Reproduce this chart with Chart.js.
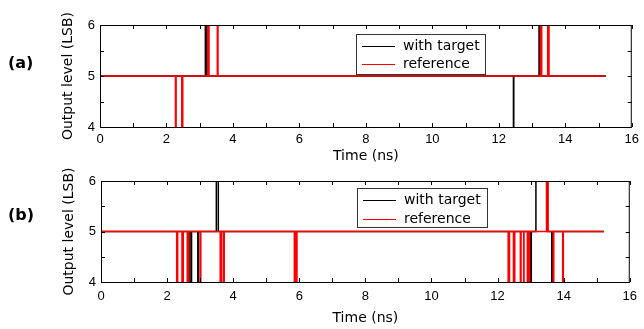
<!DOCTYPE html>
<html>
<head>
<meta charset="utf-8">
<script src="https://cdn.jsdelivr.net/npm/chart.js@4.4.1/dist/chart.umd.min.js"></script>
<style>
    body { margin: 0; background: #fff; }
    #wrap { position: relative; width: 644px; height: 329px; overflow: hidden; background: #fff; }
    #wrap canvas { position: absolute; left: 0; }
    .tag { position: absolute; left: 8px; font: bold 16px "DejaVu Sans", sans-serif; line-height: 20px; color: #000; }
</style>
</head>
<body>
<div id="wrap">
    <canvas id="chartA" width="644" height="165" style="top:0"></canvas>
    <canvas id="chartB" width="644" height="169" style="top:160px"></canvas>
    <div class="tag" style="top:53px">(a)</div>
    <div class="tag" style="top:205px">(b)</div>
</div>
<script>
    // each level holds from its start time (ns) until the next one; traces stop at tEnd
    const tEnd = 15.22;

    const tgtA_t = [0, 3.17, 3.21, 12.44, 12.45, 13.21, 13.22];
    const tgtA_y = [5, 6, 5, 4, 5, 6, 5];
    const refA_t = [0, 2.27, 2.29, 2.46, 2.49, 3.24, 3.28, 3.53, 3.55, 13.25, 13.29, 13.47, 13.51];
    const refA_y = [5, 4, 5, 4, 5, 6, 5, 6, 5, 6, 5, 6, 5];

    const tgtB_t = [0, 2.69, 2.74, 2.93, 2.95, 3.49, 3.55, 3.62, 3.64, 5.88, 5.90, 12.92, 12.94, 13.00, 13.02, 13.16, 13.50, 13.64, 13.66];
    const tgtB_y = [5, 4, 5, 4, 5, 6, 5, 4, 5, 4, 5, 4, 5, 4, 5, 6, 5, 4, 5];
    const refB_t = [0, 2.29, 2.32, 2.45, 2.49, 2.61, 2.65, 3.00, 3.02, 3.61, 3.65, 3.71, 3.73, 5.85, 5.87, 5.91, 5.93,
        12.32, 12.36, 12.48, 12.52, 12.69, 12.71, 12.79, 12.80, 12.90, 12.92, 12.95, 12.97, 13.48, 13.53, 13.68, 13.70, 13.97, 13.99];
    const refB_y = [5, 4, 5, 4, 5, 4, 5, 4, 5, 4, 5, 4, 5, 4, 5, 4, 5,
        4, 5, 4, 5, 4, 5, 4, 5, 4, 5, 4, 5, 6, 5, 4, 5, 4, 5];

    const xTicks = [0, 2, 4, 6, 8, 10, 12, 14, 16];
    const yTicks = [4, 5, 6];

    function steps(t, y) {
        const pts = t.map((v, i) => ({x: v, y: y[i]}));
        pts.push({x: tEnd, y: y[y.length - 1]});
        return pts;
    }

    // closed box with inward ticks plus the legend inside the plot
    const boxPlugin = {
        id: 'boxPlugin',
        afterDatasetsDraw(chart, args, opts) {
            const ctx = chart.ctx;
            const a = chart.chartArea;
            const x = chart.scales.x, y = chart.scales.y;
            ctx.save();
            ctx.strokeStyle = '#000';
            ctx.lineWidth = 1;
            ctx.beginPath();
            for (let v = x.min; v <= x.max; v++) {
                const px = Math.round(x.getPixelForValue(v)) + 0.5;
                ctx.moveTo(px, a.bottom); ctx.lineTo(px, a.bottom - 4);
                ctx.moveTo(px, a.top); ctx.lineTo(px, a.top + 4);
            }
            for (let v = y.min; v <= y.max; v += 0.5) {
                const py = Math.round(y.getPixelForValue(v)) + 0.5;
                ctx.moveTo(a.left, py); ctx.lineTo(a.left + 4, py);
                ctx.moveTo(a.right, py); ctx.lineTo(a.right - 4, py);
            }
            ctx.stroke();
            ctx.strokeRect(a.left + 0.5, a.top + 0.5, a.right - a.left - 1, a.bottom - a.top);

            // legend
            const lx = a.left + opts.dx, ly = a.top + opts.dy;
            ctx.fillStyle = '#fff';
            ctx.fillRect(lx, ly, opts.w, opts.h);
            ctx.strokeStyle = '#333';
            ctx.strokeRect(lx + 0.5, ly + 0.5, opts.w, opts.h);
            ctx.font = '14px "DejaVu Sans"';
            ctx.textBaseline = 'middle';
            chart.data.datasets.forEach((ds, i) => {
                const ry = Math.round(ly + opts.rows[i]) + 0.5;
                ctx.strokeStyle = ds.borderColor;
                ctx.beginPath();
                ctx.moveTo(lx + 6, ry); ctx.lineTo(lx + 39, ry);
                ctx.stroke();
                ctx.fillStyle = '#000';
                ctx.fillText(ds.label, lx + 47, ry);
            });
            ctx.restore();
        }
    };

    function makeChart(id, tgt, ref, pad, xHeight, xPad, titlePad, legend) {
        return new Chart(document.getElementById(id), {
            type: 'line',
            data: {
                datasets: [{
                        label: 'with target',
                        data: tgt,
                        borderColor: '#000',
                        borderWidth: 1.5,
                        stepped: true,
                        pointRadius: 0,
                        order: 1
                    }, {
                        label: 'reference',
                        data: ref,
                        borderColor: '#ff0000',
                        borderWidth: 1.5,
                        stepped: true,
                        pointRadius: 0,
                        order: 0
                    }]
            },
            options: {
                responsive: false,
                animation: false,
                layout: {padding: pad},
                plugins: {
                    legend: {display: false},
                    tooltip: {enabled: false},
                    boxPlugin: legend
                },
                scales: {
                    x: {
                        type: 'linear',
                        min: 0,
                        max: 16,
                        afterBuildTicks: (s) => { s.ticks = xTicks.map(v => ({value: v})); },
                        afterFit: (s) => { s.height = xHeight; },
                        ticks: {color: '#000', padding: xPad, maxRotation: 0, autoSkip: false,
                            font: {family: 'Liberation Sans', size: 13}},
                        grid: {display: false, drawTicks: false},
                        border: {display: false},
                        title: {display: true, text: 'Time (ns)', color: '#000',
                            font: {family: 'DejaVu Sans', size: 14}, padding: {top: 0, bottom: titlePad}}
                    },
                    y: {
                        min: 4,
                        max: 6,
                        afterBuildTicks: (s) => { s.ticks = yTicks.map(v => ({value: v})); },
                        afterFit: (s) => { s.width = 45; },
                        ticks: {color: '#000', padding: 5, font: {family: 'Liberation Sans', size: 13}},
                        grid: {display: false, drawTicks: false},
                        border: {display: false},
                        title: {display: true, text: 'Output level (LSB)', color: '#000',
                            font: {family: 'DejaVu Sans', size: 14}, padding: {top: 5, bottom: 0}}
                    }
                }
            },
            plugins: [boxPlugin]
        });
    }

    makeChart('chartA', steps(tgtA_t, tgtA_y), steps(refA_t, refA_y),
        {left: 55, right: 9, top: 25, bottom: 0}, 38, 5, 0,
        {dx: 256, dy: 9, w: 129, h: 40, rows: [11.5, 30]});
    makeChart('chartB', steps(tgtB_t, tgtB_y), steps(refB_t, refB_y),
        {left: 56, right: 8, top: 21, bottom: 0}, 47, 7, 2.6,
        {dx: 256, dy: 7, w: 130, h: 39, rows: [11.5, 30.5]});
</script>
</body>
</html>
